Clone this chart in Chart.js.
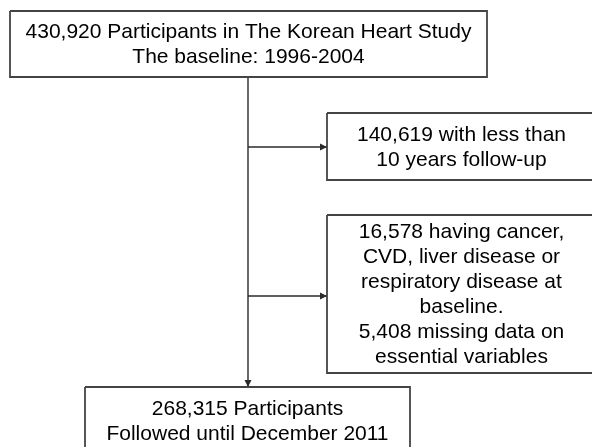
<!DOCTYPE html>
<html>
<head>
<meta charset="utf-8">
<script src="https://cdn.jsdelivr.net/npm/chart.js@4.4.1/dist/chart.umd.min.js"></script>
<style>
body { margin: 0; background: #fff; }
</style>
</head>
<body>
<canvas id="flow" width="592" height="447"></canvas>
<script>
// box texts
var startText = ['430,920 Participants in The Korean Heart Study', 'The baseline: 1996-2004'];
var excl1Text = ['140,619 with less than', '10 years follow-up'];
var excl2Text = ['16,578 having cancer,', 'CVD, liver disease or', 'respiratory disease at', 'baseline.', '5,408 missing data on', 'essential variables'];
var finalText = ['268,315 Participants', 'Followed until December 2011'];
var boxTexts = [startText, excl1Text, excl2Text, finalText];

// layout (page units, y down)
var boxes = [
    { x0: 10, x1: 487, y0: 11, y1: 77 },
    { x0: 327, x1: 596, y0: 113, y1: 180 },
    { x0: 327, x1: 596, y0: 215, y1: 373 },
    { x0: 85, x1: 410, y0: 387, y1: 455 }
];
var spineX = 248;
var arrows = [
    { x0: spineX, y0: 77, x1: spineX, y1: 387 },
    { x0: spineX, y0: 147, x1: 327, y1: 147 },
    { x0: spineX, y0: 296, x1: 327, y1: 296 }
];
var lineColor = '#2a2a2a';

function boxPoints(b) {
    return [
        { x: b.x0, y: b.y0 }, { x: b.x1, y: b.y0 },
        { x: b.x1, y: b.y1 }, { x: b.x0, y: b.y1 }, { x: b.x0, y: b.y0 }
    ];
}

var datasets = [];
boxes.forEach(function (b) {
    datasets.push({ data: boxPoints(b), showLine: true, pointRadius: 0, borderColor: '#444', borderWidth: 1.8, fill: false, tension: 0 });
});
arrows.forEach(function (a) {
    datasets.push({ data: [{ x: a.x0, y: a.y0 }, { x: a.x1, y: a.y1 }], showLine: true, pointRadius: 0, borderColor: lineColor, borderWidth: 1.4, fill: false });
});

var flowPlugin = {
    id: 'flowText',
    afterDatasetsDraw: function (chart) {
        var ctx = chart.ctx;
        var xs = chart.scales.x, ys = chart.scales.y;
        ctx.save();
        // arrow heads
        ctx.fillStyle = lineColor;
        arrows.forEach(function (a) {
            var px = xs.getPixelForValue(a.x1), py = ys.getPixelForValue(a.y1);
            var dx = Math.sign(a.x1 - a.x0), dy = Math.sign(a.y1 - a.y0);
            var len = 7, w = 3.5;
            ctx.beginPath();
            ctx.moveTo(px, py);
            ctx.lineTo(px - dx * len - dy * w, py - dy * len - dx * w);
            ctx.lineTo(px - dx * len + dy * w, py - dy * len + dx * w);
            ctx.closePath();
            ctx.fill();
        });
        // texts
        ctx.fillStyle = '#000';
        ctx.font = '21px "Liberation Sans", Arial, sans-serif';
        ctx.textAlign = 'center';
        ctx.textBaseline = 'middle';
        boxes.forEach(function (b, i) {
            var lines = boxTexts[i];
            var cx = xs.getPixelForValue((b.x0 + b.x1) / 2);
            var cy = ys.getPixelForValue((b.y0 + b.y1) / 2) + 1;
            var step = 25;
            lines.forEach(function (t, k) {
                ctx.fillText(t, cx, cy + (k - (lines.length - 1) / 2) * step);
            });
        });
        ctx.restore();
    }
};

new Chart(document.getElementById('flow'), {
    type: 'scatter',
    data: { datasets: datasets },
    options: {
        responsive: false,
        animation: false,
        layout: { padding: 0 },
        plugins: { legend: { display: false }, tooltip: { enabled: false } },
        scales: {
            x: { type: 'linear', min: 0, max: 592, display: false },
            y: { type: 'linear', min: 0, max: 447, reverse: true, display: false }
        }
    },
    plugins: [flowPlugin]
});
</script>
</body>
</html>
